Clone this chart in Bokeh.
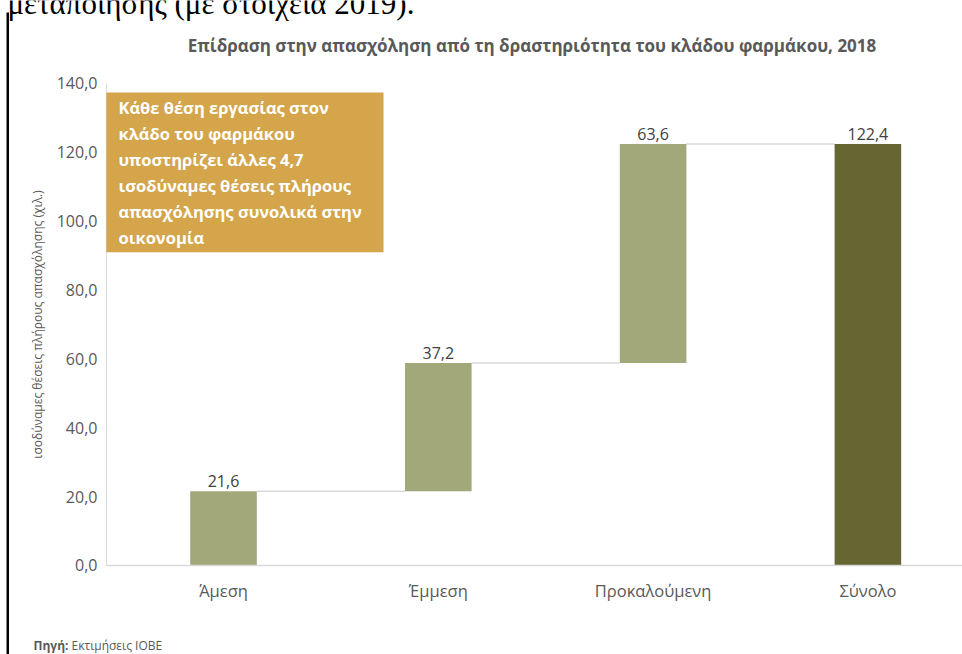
from bokeh.plotting import figure
from bokeh.models import Range1d, FixedTicker, Label, BoxAnnotation, ColumnDataSource
from bokeh.core.properties import value
from bokeh.embed import file_html
from bokeh.resources import INLINE

# --- data -------------------------------------------------------------
categories = ["Άμεση", "Έμμεση", "Προκαλούμενη", "Σύνολο"]
effects = [21.6, 37.2, 63.6]          # direct, indirect, induced (thousand FTE)
total = 122.4
ytick_values = [0, 20, 40, 60, 80, 100, 120, 140]
ytick_labels = ["0,0", "20,0", "40,0", "60,0", "80,0", "100,0", "120,0", "140,0"]

title_text = "Επίδραση στην απασχόληση από τη δραστηριότητα του κλάδου φαρμάκου, 2018"
y_axis_title = "ισοδύναμες θέσεις πλήρους απασχόλησης (χιλ.)"
note_lines = [
    "Κάθε θέση εργασίας στον",
    "κλάδο του φαρμάκου",
    "υποστηρίζει άλλες 4,7",
    "ισοδύναμες θέσεις πλήρους",
    "απασχόλησης συνολικά στην",
    "οικονομία",
]
source_head = "Πηγή:"
source_body = "Εκτιμήσεις ΙΟΒΕ"
heading_tail = "μεταποίησης (με στοιχεία 2019)."

# --- waterfall geometry -------------------------------------------------
FONT = "Open Sans"
TXT = "#595959"
LIGHT = "#a3a87a"
DARK = "#656632"
BAR_W = 0.31
X_LO, X_HI = -0.545, 3.44      # extent of the value axis / category band
Y_LO, Y_HI = 0, 140

xs = list(range(len(categories)))
bottoms, tops = [], []
running = 0.0
for v in effects:
    bottoms.append(running)
    running = round(running + v, 1)
    tops.append(running)
bottoms.append(0.0)
tops.append(total)
values = effects + [total]
colors = [LIGHT] * len(effects) + [DARK]

bars = ColumnDataSource(dict(
    x=xs, bottom=bottoms, top=tops, color=colors,
    label=[f"{v:.1f}".replace(".", ",") for v in values],
))

# connectors between consecutive bars, at the running level
conn = ColumnDataSource(dict(
    x0=[x + BAR_W / 2 for x in xs[:-1]],
    x1=[x + 1 - BAR_W / 2 for x in xs[:-1]],
    y=tops[:-1],
))

# the frame spans the whole page so that titles and notes can sit around the axes
p = figure(
    width=962, height=654,
    output_backend="svg", toolbar_location=None,
    x_range=Range1d(-1.0382, 3.4404), y_range=Range1d(-25.85, 164.1),
    min_border=0,
)
p.outline_line_color = None
p.background_fill_color = "white"
p.border_fill_color = "white"
p.xgrid.visible = False
p.ygrid.visible = False

p.segment(x0="x0", y0="y", x1="x1", y1="y", source=conn,
          line_color="#d9d9d9", line_width=1.5)
p.vbar(x="x", width=BAR_W, bottom="bottom", top="top", color="color",
       source=bars, line_color=None)
p.text(x="x", y="top", text="label", source=bars,
       text_align="center", text_baseline="bottom", y_offset=-4,
       text_font=value(FONT), text_font_size="16px", text_color="#404040")

# axes, pinned at the edges of the value area
yax = p.yaxis[0]
yax.fixed_location = X_LO
yax.bounds = (Y_LO, Y_HI)
yax.ticker = FixedTicker(ticks=ytick_values)
yax.major_label_overrides = {t: s for t, s in zip(ytick_values, ytick_labels)}
yax.axis_line_color = "#d9d9d9"
yax.major_tick_line_color = None
yax.minor_tick_line_color = None
yax.major_label_text_font = FONT
yax.major_label_text_font_size = "16px"
yax.major_label_text_color = TXT
yax.major_label_standoff = 3
yax.axis_label = y_axis_title
yax.axis_label_text_font = FONT
yax.axis_label_text_font_size = "12px"
yax.axis_label_text_font_style = "normal"
yax.axis_label_text_color = TXT
yax.axis_label_standoff = 8

xax = p.xaxis[0]
xax.fixed_location = Y_LO
xax.bounds = (X_LO, X_HI)
xax.ticker = FixedTicker(ticks=xs)
xax.major_label_overrides = {x: c for x, c in zip(xs, categories)}
xax.axis_line_color = "#d9d9d9"
xax.axis_line_width = 1.5
xax.major_tick_line_color = None
xax.minor_tick_line_color = None
xax.major_label_text_font = FONT
xax.major_label_text_font_size = "16.5px"
xax.major_label_text_color = TXT
xax.major_label_standoff = 8

# callout box
p.add_layout(BoxAnnotation(left=X_LO, right=0.745, bottom=91, top=137.4,
                           fill_color="#d4a54a", fill_alpha=1.0, line_color=None))
for k, line in enumerate(note_lines):
    p.add_layout(Label(x=-0.489, y=137.4, y_offset=-(15 + 26 * k), text=line,
                       text_baseline="middle", text_font=FONT,
                       text_font_style="bold", text_font_size="16.5px",
                       text_color="white"))

# chart title
p.add_layout(Label(x=1.436, y=151.0, text=title_text, text_align="center",
                   text_baseline="middle", text_font=FONT, text_font_style="bold",
                   text_font_size="17px", text_color=TXT))

# source note
p.add_layout(Label(x=-0.8845, y=-23.2, text=source_head, text_baseline="middle",
                   text_font=FONT, text_font_style="bold", text_font_size="12px",
                   text_color=TXT))
p.add_layout(Label(x=-0.8845, y=-23.2, x_offset=38, text=source_body,
                   text_baseline="middle", text_font=FONT, text_font_size="12px",
                   text_color=TXT))

# page text running above the chart, and the page rule on the left
p.add_layout(Label(x=-1.0056, y=163.3, text=heading_tail, text_baseline="alphabetic",
                   text_font="Liberation Serif", text_font_size="31px",
                   text_color="black"))
p.add_layout(BoxAnnotation(left=-1.0102, right=-0.9986, bottom=-30, top=160.6,
                           fill_color="black", fill_alpha=1.0, line_color=None))

open("out.html", "w").write(file_html(p, INLINE))
